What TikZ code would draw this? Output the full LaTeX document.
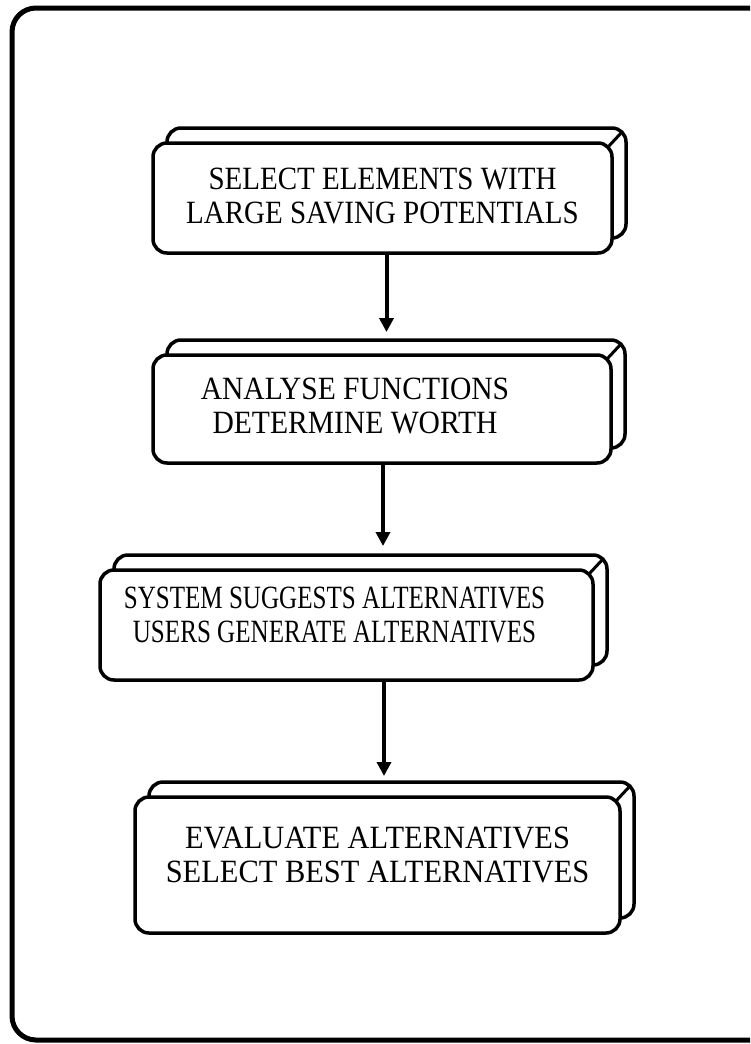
\documentclass[tikz,border=0pt]{standalone}
\usepackage{fontspec}
\setmainfont{Liberation Serif}
\usepackage{graphicx}
\usetikzlibrary{arrows.meta,backgrounds}

% two-line caption, set slightly tall; #1 is the horizontal scale
\newcommand{\boxtext}[3][1]{\scalebox{#1}[1.12]{\fontsize{29}{30.4}\selectfont
  \begin{tabular}{@{}c@{}}#2\\#3\end{tabular}}}

\tikzset{
  frontbox/.style={draw, line width=3.5pt, rounded corners=14pt, fill=white,
    inner sep=0pt, outer sep=0pt},
  caption/.style={inner sep=0pt},
  backface/.style={draw, line width=3.5pt, rounded corners=14pt, fill=white},
  edgeline/.style={line width=3pt},
  flowarrow/.style={line width=4pt, -{Triangle[length=14pt,width=14pt]}},
  frame/.style={line width=5pt, rounded corners=24pt}
}

% offset back face and the slanted corner edge of a slab
\newcommand{\slab}[1]{%
  \begin{scope}[on background layer]
    \draw[backface] ([shift={(14pt,15pt)}]#1.south west) rectangle ([shift={(14pt,15pt)}]#1.north east);
  \end{scope}
  \draw[edgeline] ([shift={(-4.1pt,-4.1pt)}]#1.north east) -- ([shift={(9.9pt,10.9pt)}]#1.north east);
}

\begin{document}
\begin{tikzpicture}[x=1pt,y=-1pt]
  \useasboundingbox (0,0) rectangle (750,1044);

  % outer frame, its right side runs off the page
  \begin{scope}
    \clip (0,0) rectangle (750,1044);
    \draw[frame] (790,8) -- (12,8) -- (12,1040) -- (790,1040);
  \end{scope}

  % front faces
  \node[frontbox, minimum width=459pt, minimum height=110pt] (b1) at (382.5,198) {};
  \node[frontbox, minimum width=458pt, minimum height=108pt] (b2) at (382,409) {};
  \node[frontbox, minimum width=493pt, minimum height=110pt] (b3) at (346.5,625) {};
  \node[frontbox, minimum width=485pt, minimum height=136pt] (b4) at (377.5,865) {};

  \slab{b1}
  \slab{b2}
  \slab{b3}
  \slab{b4}

  % captions
  \node[caption] (c1) at ([yshift=-2pt]b1.center)
    {\boxtext{SELECT ELEMENTS WITH}{LARGE SAVING POTENTIALS}};
  \node[caption] (c2) at ([xshift=-27pt,yshift=-1pt]b2.center)
    {\boxtext[1.02]{ANALYSE FUNCTIONS}{DETERMINE WORTH}};
  \node[caption] (c3) at ([xshift=-12pt,yshift=6pt]b3.center)
    {\boxtext[0.865]{SYSTEM SUGGESTS ALTERNATIVES}{USERS GENERATE ALTERNATIVES}};
  \node[caption] (c4) at ([xshift=0pt,yshift=6pt]b4.center)
    {\boxtext[1.05]{EVALUATE ALTERNATIVES}{SELECT BEST ALTERNATIVES}};

  % connectors
  \coordinate (s1) at ([xshift=4pt]b1.south);
  \coordinate (t2) at ([yshift=23pt]b2.north);
  \draw[flowarrow] (s1) -- (s1 |- t2);

  \coordinate (s2) at ([xshift=1pt]b2.south);
  \coordinate (t3) at ([yshift=24pt]b3.north);
  \draw[flowarrow] (s2) -- (s2 |- t3);

  \coordinate (t4) at ([xshift=6.5pt,yshift=21pt]b4.north);
  \draw[flowarrow] (t4 |- b3.south) -- (t4);
\end{tikzpicture}
\end{document}
